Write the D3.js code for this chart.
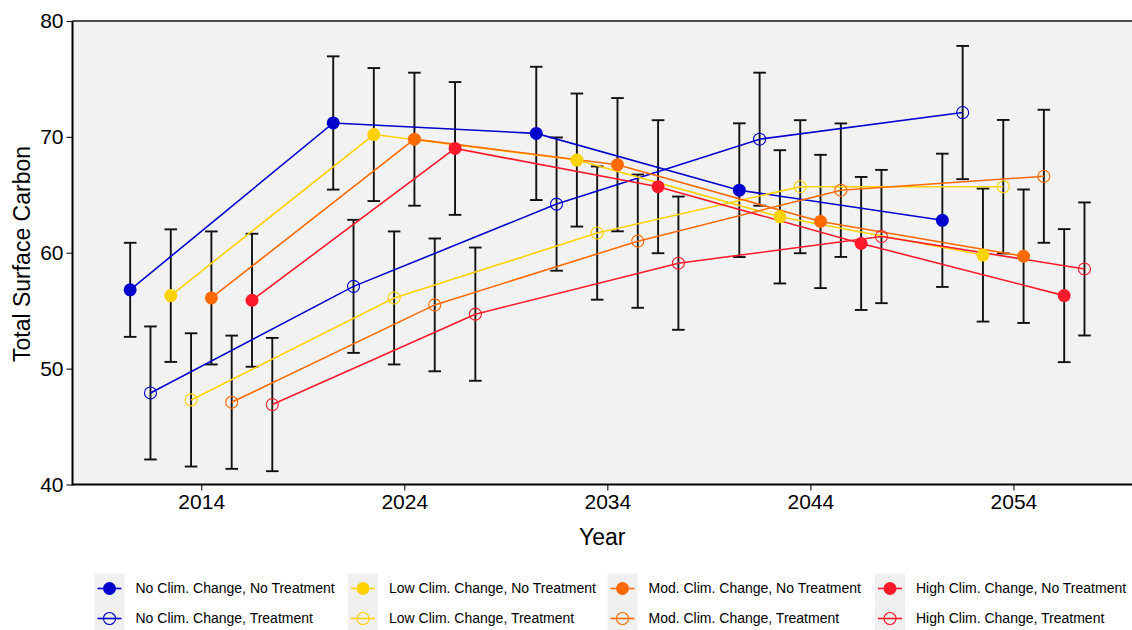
<!DOCTYPE html>
<meta charset="utf-8">
<style>
body { margin: 0; background: #fff; }
text { font-family: "Liberation Sans", Arial, sans-serif; fill: #000; }
.tick text { font-size: 21px; }
.axis-title { font-size: 23px; }
.legend text { font-size: 14px; }
</style>
<svg width="1132" height="630"></svg>
<script src="https://cdn.jsdelivr.net/npm/d3@7"></script>
<script>

// group centre years (x ticks)
var years = [2014, 2024, 2034, 2044, 2054];
var yTicks = [40, 50, 60, 70, 80];

var seriesNames = [
  "No Clim. Change, No Treatment", "No Clim. Change, Treatment",
  "Low Clim. Change, No Treatment", "Low Clim. Change, Treatment",
  "Mod. Clim. Change, No Treatment", "Mod. Clim. Change, Treatment",
  "High Clim. Change, No Treatment", "High Clim. Change, Treatment"
];
var seriesColors = ["#0000cc", "#0000cc", "#ffd200", "#ffd200", "#ff6a00", "#ff6a00", "#ff1a2b", "#ff1a2b"];
var seriesFilled = [true, false, true, false, true, false, true, false];

// means per series, one per year group
var noNT   = [56.8, 71.2, 70.3, 65.4, 62.8];
var noT    = [47.9, 57.1, 64.2, 69.8, 72.1];
var lowNT  = [56.3, 70.2, 68.0, 63.1, 59.8];
var lowT   = [47.3, 56.1, 61.7, 65.7, 65.7];
var modNT  = [56.1, 69.8, 67.6, 62.7, 59.7];
var modT   = [47.1, 55.5, 61.0, 65.4, 66.6];
var highNT = [55.9, 69.0, 65.7, 60.8, 56.3];
var highT  = [46.9, 54.7, 59.1, 61.4, 58.6];

// error bar half widths
var noNTerr   = [4.06, 5.75, 5.75, 5.77, 5.75];
var noTerr    = [5.74, 5.74, 5.75, 5.74, 5.75];
var lowNTerr  = [5.72, 5.74, 5.74, 5.75, 5.74];
var lowTerr   = [5.75, 5.74, 5.75, 5.74, 5.76];
var modNTerr  = [5.74, 5.74, 5.75, 5.75, 5.76];
var modTerr   = [5.75, 5.73, 5.75, 5.76, 5.74];
var highNTerr = [5.74, 5.73, 5.74, 5.74, 5.74];
var highTerr  = [5.75, 5.75, 5.75, 5.75, 5.74];

var means = [noNT, noT, lowNT, lowT, modNT, modT, highNT, highT];
var errs = [noNTerr, noTerr, lowNTerr, lowTerr, modNTerr, modTerr, highNTerr, highTerr];

var svg = d3.select("svg");
var pLeft = 72.5, pRight = 1132, pTop = 21, pBottom = 484.5;

var x = d3.scaleLinear().domain([2007.66, 2059.84]).range([pLeft, pRight]);
var y = d3.scaleLinear().domain([40, 80]).range([pBottom, pTop]);
var dodge = 1.0;

var series = seriesNames.map(function(name, i) {
  return {
    name: name, color: seriesColors[i], filled: seriesFilled[i],
    values: years.map(function(yr, j) {
      return { x: yr + (i - 3.5) * dodge, y: means[i][j], e: errs[i][j] };
    })
  };
});

// panel
svg.append("rect")
    .attr("x", pLeft).attr("y", pTop)
    .attr("width", pRight - pLeft).attr("height", pBottom - pTop)
    .attr("fill", "#f2f2f2");

var line = d3.line().x(function(d) { return x(d.x); }).y(function(d) { return y(d.y); });

// error bars
var eb = svg.append("g").attr("stroke", "#111").attr("stroke-width", 1.9).attr("fill", "none");
series.forEach(function(s) {
  s.values.forEach(function(d) {
    var cx = x(d.x), hw = 6.3;
    eb.append("line").attr("x1", cx).attr("x2", cx).attr("y1", y(d.y - d.e)).attr("y2", y(d.y + d.e));
    eb.append("line").attr("x1", cx - hw).attr("x2", cx + hw).attr("y1", y(d.y + d.e)).attr("y2", y(d.y + d.e));
    eb.append("line").attr("x1", cx - hw).attr("x2", cx + hw).attr("y1", y(d.y - d.e)).attr("y2", y(d.y - d.e));
  });
});

// lines
svg.append("g").selectAll("path")
    .data(series)
    .enter().append("path")
    .attr("d", function(s) { return line(s.values); })
    .attr("fill", "none")
    .attr("stroke", function(s) { return s.color; })
    .attr("stroke-width", 1.6);

// points
series.forEach(function(s) {
  svg.append("g").selectAll("circle")
      .data(s.values)
      .enter().append("circle")
      .attr("cx", function(d) { return x(d.x); })
      .attr("cy", function(d) { return y(d.y); })
      .attr("r", s.filled ? 6.5 : 6)
      .attr("fill", s.filled ? s.color : "none")
      .attr("stroke", s.color)
      .attr("stroke-width", s.filled ? 0 : 1.1);
});

// axes
var xAxis = svg.append("g")
    .attr("transform", "translate(0," + pBottom + ")")
    .call(d3.axisBottom(x).tickValues(years).tickFormat(d3.format("d")).tickSize(6).tickPadding(4));
var yAxis = svg.append("g")
    .attr("transform", "translate(" + pLeft + ",0)")
    .call(d3.axisLeft(y).tickValues(yTicks).tickSize(6).tickPadding(3));
[xAxis, yAxis].forEach(function(a) {
  a.select(".domain").remove();
  a.selectAll(".tick line").attr("stroke", "#222").attr("stroke-width", 1.2);
  a.selectAll(".tick text").attr("fill", "#111").style("font-family", "Liberation Sans, Arial, sans-serif");
});

svg.append("line").attr("x1", pLeft).attr("x2", pRight).attr("y1", pBottom).attr("y2", pBottom)
    .attr("stroke", "#000").attr("stroke-width", 2);
svg.append("line").attr("x1", pLeft).attr("x2", pLeft).attr("y1", pTop).attr("y2", pBottom + 1)
    .attr("stroke", "#000").attr("stroke-width", 2);
svg.append("line").attr("x1", pLeft).attr("x2", pRight).attr("y1", pTop).attr("y2", pTop)
    .attr("stroke", "#111").attr("stroke-width", 1.4);

svg.append("text").attr("class", "axis-title")
    .attr("x", (pLeft + pRight) / 2).attr("y", 545)
    .attr("text-anchor", "middle").text("Year");
svg.append("text").attr("class", "axis-title")
    .attr("transform", "translate(30,254) rotate(-90)")
    .attr("text-anchor", "middle").text("Total Surface Carbon");

// legend
var legCols = [94.5, 348, 607.5, 875];
var legRows = [588.5, 618.5];
var legend = svg.append("g").attr("class", "legend");
series.forEach(function(s, i) {
  var col = Math.floor(i / 2), row = i % 2;
  var kx = legCols[col], ky = legRows[row];
  var g = legend.append("g").attr("transform", "translate(" + kx + "," + ky + ")");
  g.append("rect").attr("x", 0).attr("y", -15).attr("width", 30).attr("height", 30).attr("fill", "#f0f0f0");
  g.append("line").attr("x1", 3).attr("x2", 27).attr("y1", 0).attr("y2", 0)
      .attr("stroke", s.color).attr("stroke-width", 1.6);
  g.append("circle").attr("cx", 15).attr("cy", 0).attr("r", s.filled ? 6.5 : 6)
      .attr("fill", s.filled ? s.color : "none")
      .attr("stroke", s.color).attr("stroke-width", s.filled ? 0 : 1.1);
  g.append("text").attr("x", 41).attr("y", 0).attr("dy", "0.35em").text(s.name);
});

</script>
